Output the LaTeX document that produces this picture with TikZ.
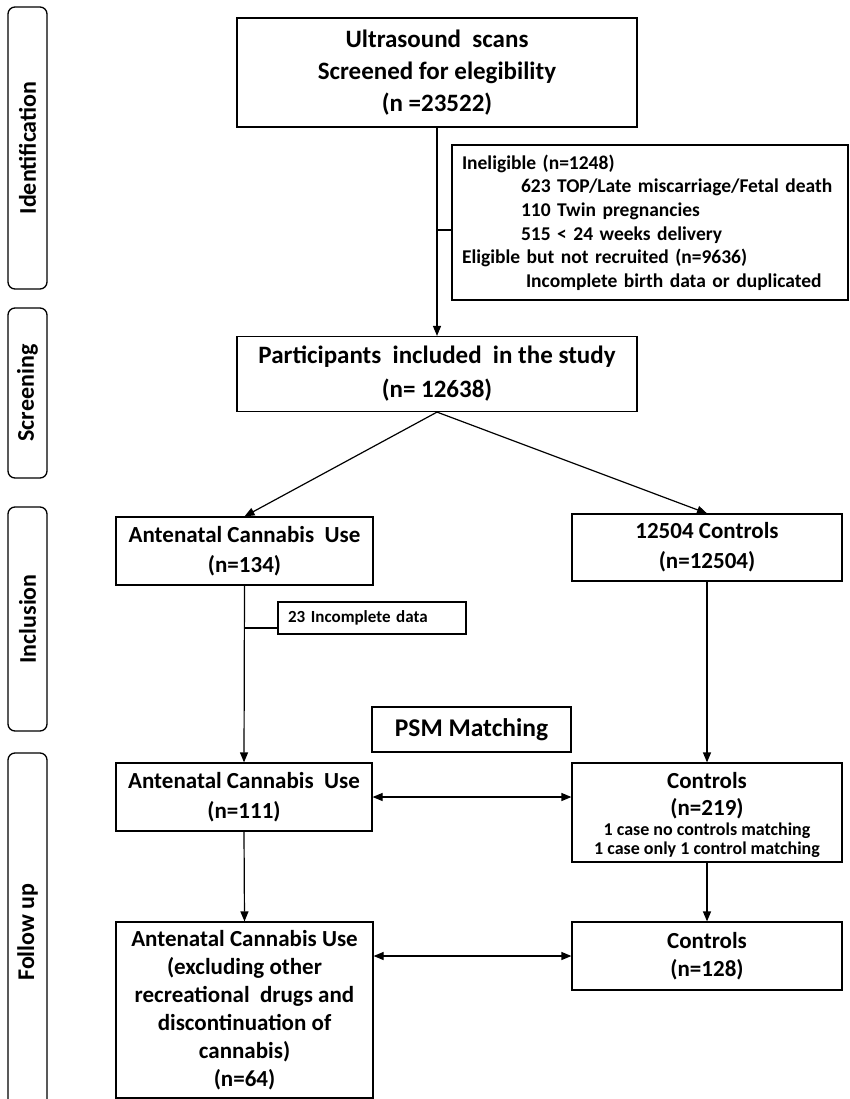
\documentclass[tikz,border=0pt]{standalone}
\usepackage{fontspec}
\setmainfont{Carlito}
\usetikzlibrary{arrows.meta,calc}
\newcommand{\fbig}{\fontsize{23}{30}\selectfont\bfseries}
\newcommand{\fhuge}{\fontsize{25}{32}\selectfont\bfseries}
\newcommand{\fmed}{\fontsize{19.5}{23.6}\selectfont\bfseries}
\newcommand{\fsml}{\fontsize{18}{20}\selectfont\bfseries}
\begin{document}
\begin{tikzpicture}[x=1pt,y=-1pt,
  box/.style={draw, line width=1.2pt, inner sep=0pt, align=center, font=\fbig},
  txt/.style={inner sep=0pt, anchor=base},
  phase/.style={draw, rounded corners=7pt, line width=1.3pt, rotate=90, inner sep=0pt,
    minimum height=39pt, font=\fontsize{24}{28}\selectfont\bfseries},
  arr/.style={-{Triangle[length=10pt,width=8pt]}, line width=1.2pt},
  darr/.style={{Triangle[length=10pt,width=8pt]}-{Triangle[length=10pt,width=8pt]}, line width=1.2pt},
  ln/.style={line width=1.2pt}]
\clip (0,0) rectangle (849,1099);
\fill[white] (0,0) rectangle (849,1099);

% phase labels
\node[phase, minimum width=282pt] (pid) at (27.5,148) {Identification};
\node[phase, minimum width=170pt] (pscr) at (27.5,393) {Screening};
\node[phase, minimum width=224pt] (pinc) at (27.5,619) {Inclusion};
\node[phase, minimum width=358pt] (pfol) at (27.5,932) {Follow up};

% main boxes
\node[box, minimum width=400pt, minimum height=109pt, font=\fhuge] (top) at (437,72.5)
  {Ultrasound\ \ scans\\Screened for elegibility\\(n =23522)};
\node[box, minimum width=396pt, minimum height=155pt, align=left, text width=376pt, inner xsep=10pt, font=\fmed] (inel) at (650,222.5)
  {Ineligible (n=1248)\\
   \hspace*{59pt}623 TOP/Late miscarriage/Fetal death\\
   \hspace*{59pt}110 Twin pregnancies\\
   \hspace*{59pt}515 < 24 weeks delivery\\
   Eligible but not recruited (n=9636)\\
   \hspace*{64pt}Incomplete birth data or duplicated};
\node[box, minimum width=400pt, minimum height=75pt, font=\fontsize{25}{34}\selectfont\bfseries] (part) at (437,374)
  {Participants\ \ included\ \ in the study\\(n= 12638)};

\node[box, minimum width=257pt, minimum height=68pt] (ante1) at (244.5,551)
  {Antenatal Cannabis\ \ Use\\(n=134)};
\node[box, minimum width=270pt, minimum height=67pt] (ctrl1) at (707,547.5)
  {12504 Controls\\(n=12504)};
\node[box, minimum width=188pt, minimum height=32pt, align=left, text width=168pt, inner xsep=10pt,
  font=\fontsize{17}{20}\selectfont\bfseries] (inc) at (372,618)
  {23 Incomplete data};

\node[box, minimum width=199pt, minimum height=45pt, font=\fontsize{25.5}{30}\selectfont\bfseries] (psm) at (471.5,729.5) {PSM\ Matching};

\node[box, minimum width=256pt, minimum height=68pt] (ante2) at (244,797)
  {Antenatal Cannabis\ \ Use\\(n=111)};
\node[box, minimum width=270pt, minimum height=99pt] (ctrl2) at (707,812.5) {};
\node[txt, font=\fbig] (c2a) at (707,788) {Controls};
\node[txt, font=\fbig] (c2b) at (707,815) {(n=219)};
\node[txt, font=\fsml] (c2c) at (707,835) {1 case no controls matching};
\node[txt, font=\fsml] (c2d) at (707,854) {1 case only 1 control matching};

\node[box, minimum width=257pt, minimum height=176pt, font=\fontsize{23}{28}\selectfont\bfseries] (ante3) at (244.5,1010)
  {Antenatal Cannabis Use\\(excluding other\\recreational\ \ drugs and\\discontinuation of\\cannabis)\\(n=64)};
\node[box, minimum width=270pt, minimum height=68pt, font=\fontsize{23}{28}\selectfont\bfseries] (ctrl3) at (707,956)
  {Controls\\(n=128)};

% connectors
\draw[arr] (top.south) -- (part.north);
\coordinate (j1) at (top.south |- 0,230);
\draw[ln] (j1) -- (j1 -| inel.west);
\draw[arr] (part.south) -- (ante1.north);
\draw[arr] (part.south) -- (ctrl1.north);
\draw[arr] (ante1.south) -- (ante2.north);
\coordinate (j2) at (ante1.south |- 0,628);
\draw[ln] (j2) -- (j2 -| inc.west);
\draw[arr] (ctrl1.south) -- (ctrl2.north);
\draw[darr] (ante2.east) -- (ante2.east -| ctrl2.west);
\draw[arr] (ante2.south) -- (ante3.north);
\draw[arr] (ctrl2.south) -- (ctrl3.north);
\draw[darr] (ctrl3.west -| ante3.east) -- (ctrl3.west);
\end{tikzpicture}
\end{document}
